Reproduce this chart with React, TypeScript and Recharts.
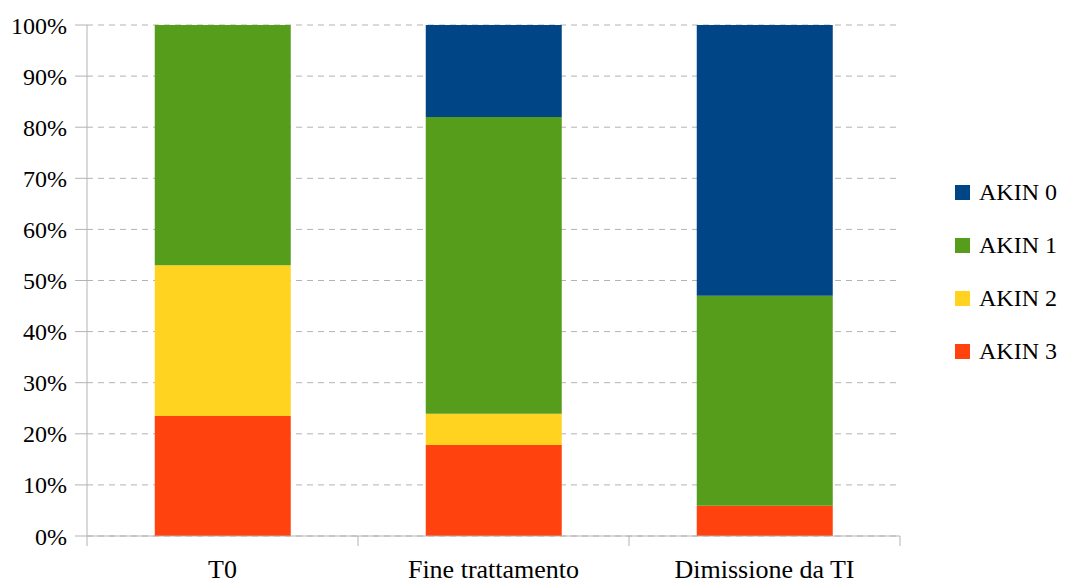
import React from "react";
import { BarChart, Bar, XAxis, YAxis, CartesianGrid, Legend } from "recharts";

// Categorie sull'asse X
const categories = ["T0", "Fine trattamento", "Dimissione da TI"];

// Percentuali per classe AKIN (dal basso verso l'alto)
const akin3 = [23.5, 17.8, 5.9];
const akin2 = [29.5, 6.1, 0];
const akin1 = [47.0, 58.1, 41.1];
const akin0 = [0, 18.0, 53.0];

const yTicks = [0, 10, 20, 30, 40, 50, 60, 70, 80, 90, 100];

// Palette stile LibreOffice
const COLORS = {
  akin0: "#004586",
  akin1: "#579d1c",
  akin2: "#ffd320",
  akin3: "#ff420e",
  axis: "#b3b3b3",
  text: "#000000",
};

const FONT = "Liberation Serif";

const data = categories.map((name, i) => ({
  name,
  akin3: akin3[i],
  akin2: akin2[i],
  akin1: akin1[i],
  akin0: akin0[i],
}));

// ordine della legenda (dall'alto)
const legendItems = [
  { label: "AKIN 0", color: COLORS.akin0 },
  { label: "AKIN 1", color: COLORS.akin1 },
  { label: "AKIN 2", color: COLORS.akin2 },
  { label: "AKIN 3", color: COLORS.akin3 },
];

/**
 * Etichetta asse X con tacche di separazione tra le categorie
 */
function CategoryTick({ x, y, payload, index }: any) {
  const half = payload.offset || 0;
  const last = index === categories.length - 1;
  return (
    <g>
      <line x1={x - half} x2={x - half} y1={y - 10} y2={y} stroke={COLORS.axis} />
      {last && <line x1={x + half} x2={x + half} y1={y - 10} y2={y} stroke={COLORS.axis} />}
      <text
        x={x}
        y={y + 32}
        textAnchor="middle"
        fill={COLORS.text}
        fontSize={26}
        style={{ fontFamily: FONT }}
      >
        {payload.value}
      </text>
    </g>
  );
}

function LegendBox() {
  return (
    <div style={{ fontFamily: FONT, fontSize: 24, color: COLORS.text }}>
      {legendItems.map((item) => (
        <div
          key={item.label}
          style={{ display: "flex", alignItems: "center", height: 53 }}
        >
          <span
            style={{
              display: "inline-block",
              width: 15,
              height: 15,
              background: item.color,
              marginRight: 9,
            }}
          />
          <span>{item.label}</span>
        </div>
      ))}
    </div>
  );
}

export default function App() {
  return (
    <div
      style={{
        position: "absolute",
        left: 0,
        top: 0,
        background: "#fff",
        fontFamily: FONT,
      }}
    >
      <BarChart
        width={1068}
        height={583}
        data={data}
        margin={{ top: 25, right: 168, bottom: 0, left: 0 }}
        barCategoryGap="25%"
      >
        <CartesianGrid
          horizontal
          vertical={false}
          stroke={COLORS.axis}
          strokeDasharray="6 5"
        />
        <XAxis
          dataKey="name"
          height={47}
          stroke={COLORS.axis}
          tickLine={false}
          tickSize={10}
          tickMargin={0}
          interval={0}
          tick={<CategoryTick />}
        />
        <YAxis
          width={87}
          domain={[0, 100]}
          ticks={yTicks}
          interval={0}
          stroke={COLORS.axis}
          tickSize={12}
          tickMargin={8}
          tickFormatter={(v) => `${v}%`}
          tick={{ fill: COLORS.text, fontSize: 24, style: { fontFamily: FONT } }}
        />
        {/* legenda posizionata a mano, senza ridurre l'area del grafico */}
        <Legend
          layout="horizontal"
          verticalAlign="middle"
          align="center"
          wrapperStyle={{ left: 955, top: 166, width: 113 }}
          content={<LegendBox />}
        />
        <Bar dataKey="akin3" name="AKIN 3" stackId="a" fill={COLORS.akin3} isAnimationActive={false} />
        <Bar dataKey="akin2" name="AKIN 2" stackId="a" fill={COLORS.akin2} isAnimationActive={false} />
        <Bar dataKey="akin1" name="AKIN 1" stackId="a" fill={COLORS.akin1} isAnimationActive={false} />
        <Bar dataKey="akin0" name="AKIN 0" stackId="a" fill={COLORS.akin0} isAnimationActive={false} />
      </BarChart>
    </div>
  );
}
